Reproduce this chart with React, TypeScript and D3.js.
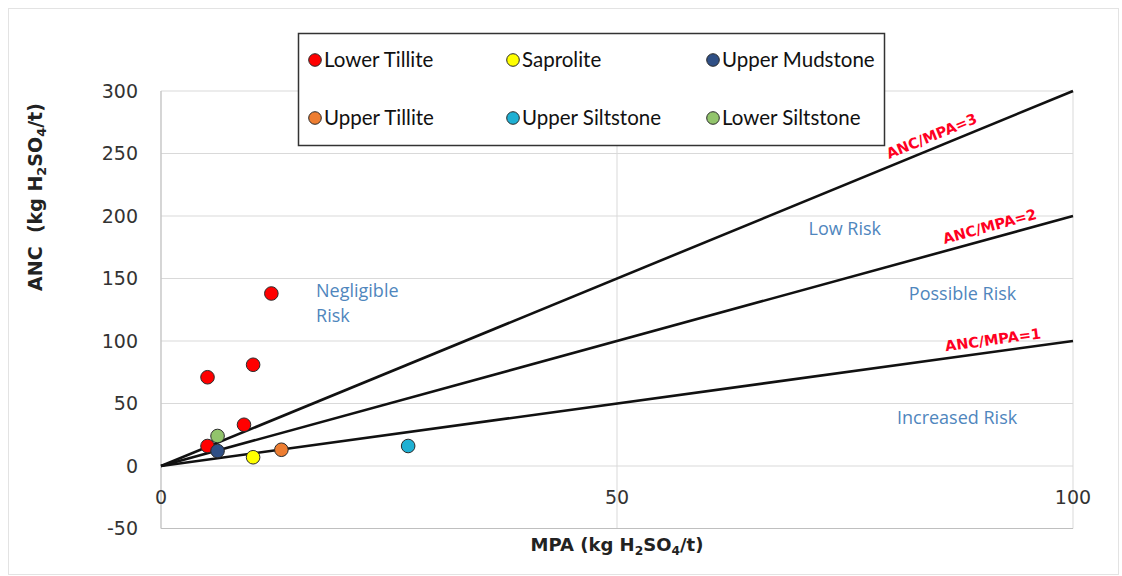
import React from "react";
import * as d3 from "d3";

// Acid-base accounting scatter: ANC vs MPA by lithology
const seriesNames = ["Lower Tillite", "Saprolite", "Upper Mudstone", "Upper Tillite", "Upper Siltstone", "Lower Siltstone"];
const seriesColors = ["#ff0000", "#ffff00", "#2f4f85", "#ed7d31", "#1fb0d3", "#92c46c"];

const lowerTillite = [
  { mpa: 12.1, anc: 138 },
  { mpa: 10.1, anc: 81 },
  { mpa: 5.1, anc: 71 },
  { mpa: 9.1, anc: 33 },
  { mpa: 5.1, anc: 16 },
];
const saprolite = [{ mpa: 10.1, anc: 7 }];
const upperMudstone = [{ mpa: 6.2, anc: 12 }];
const upperTillite = [{ mpa: 13.2, anc: 13 }];
const upperSiltstone = [{ mpa: 27.1, anc: 16 }];
const lowerSiltstone = [{ mpa: 6.2, anc: 24 }];

const seriesData = [lowerTillite, saprolite, upperMudstone, upperTillite, upperSiltstone, lowerSiltstone];

// Ratio reference lines ANC = k * MPA
const ratios = [3, 2, 1];
const ratioLabelAt = [85.0, 91.2, 91.4];

const xTicks = [0, 50, 100];
const yTicks = [-50, 0, 50, 100, 150, 200, 250, 300];

const riskZones = [
  { lines: ["Negligible", "Risk"], mpa: 17, anc: 140 },
  { lines: ["Low Risk"], mpa: 71, anc: 190 },
  { lines: ["Possible Risk"], mpa: 82, anc: 138 },
  { lines: ["Increased Risk"], mpa: 80.7, anc: 39 },
];

const W = 1122;
const H = 576;
const plot = { left: 161, right: 1073, top: 91, bottom: 528.5 };

const x = d3.scaleLinear().domain([0, 100]).range([plot.left, plot.right]);
const y = d3.scaleLinear().domain([-50, 300]).range([plot.bottom, plot.top]);

const GEO = "'DejaVu Sans', sans-serif";
const LEG = "Lato, 'Open Sans', sans-serif";
const RISK = "'Open Sans', sans-serif";

function ChemUnit({ prefix }: { prefix: string }) {
  return (
    <>
      {prefix} (kg H
      <tspan dy="4" fontSize="0.68em">2</tspan>
      <tspan dy="-4">SO</tspan>
      <tspan dy="4" fontSize="0.68em">4</tspan>
      <tspan dy="-4">/t)</tspan>
    </>
  );
}

export default function App() {
  const line = d3
    .line<[number, number]>()
    .x((d) => x(d[0]))
    .y((d) => y(d[1]));

  const legendCols = [315, 513, 713];
  const legendRows = [60, 118];

  return (
    <svg
      width={W}
      height={H}
      style={{ position: "absolute", left: 0, top: 0, background: "#fff" }}
    >
      <rect x={8.5} y={8.5} width={1110} height={566} fill="#fff" stroke="#e3e3e3" />

      {/* horizontal gridlines */}
      {yTicks.map((t) => (
        <line key={"g" + t} x1={plot.left} x2={plot.right} y1={y(t)} y2={y(t)} stroke="#d9d9d9" strokeWidth={1} />
      ))}
      {/* vertical gridlines */}
      {xTicks.map((t) => (
        <line key={"v" + t} x1={x(t)} x2={x(t)} y1={plot.top} y2={plot.bottom} stroke="#d9d9d9" strokeWidth={1} />
      ))}
      <line x1={plot.left} x2={plot.left} y1={plot.top} y2={plot.bottom} stroke="#bfbfbf" />
      <line x1={plot.left} x2={plot.right} y1={plot.bottom} y2={plot.bottom} stroke="#bfbfbf" />

      {/* y tick labels */}
      {yTicks.map((t) => (
        <text key={"yl" + t} x={138} y={y(t)} dy="0.36em" textAnchor="end" fontFamily={GEO} fontSize={19} fill="#333">
          {t}
        </text>
      ))}
      {/* x tick labels */}
      {xTicks.map((t) => (
        <text key={"xl" + t} x={x(t)} y={y(-25)} dy="0.36em" textAnchor="middle" fontFamily={GEO} fontSize={19} fill="#333">
          {t}
        </text>
      ))}

      {/* axis titles */}
      <text x={617} y={551} textAnchor="middle" fontFamily={GEO} fontWeight="bold" fontSize={18} fill="#222">
        <ChemUnit prefix="MPA" />
      </text>
      <text
        transform={`translate(42,197) rotate(-90)`}
        textAnchor="middle"
        fontFamily={GEO}
        fontWeight="bold"
        fontSize={19}
        fill="#222"
      >
        <ChemUnit prefix={"ANC\u00a0"} />
      </text>

      {/* ratio lines */}
      {ratios.map((k) => (
        <path key={"r" + k} d={line([[0, 0], [100, 100 * k]]) || ""} fill="none" stroke="#111" strokeWidth={2.6} />
      ))}
      {ratios.map((k, i) => {
        const mx = ratioLabelAt[i];
        const px = x(mx);
        const py = y(mx * k);
        const angle = (Math.atan2(y(0) - y(100 * k), x(100) - x(0)) * 180) / Math.PI;
        return (
          <text
            key={"rl" + k}
            transform={`translate(${px},${py}) rotate(${-angle})`}
            y={-7}
            textAnchor="middle"
            fontFamily={GEO}
            fontWeight="bold"
            fontSize={14.5}
            fill="#ff0022"
          >
            {`ANC/MPA=${k}`}
          </text>
        );
      })}

      {/* risk zone labels */}
      {riskZones.map((z, i) => (
        <text key={"z" + i} x={x(z.mpa)} y={y(z.anc)} fontFamily={RISK} fontSize={18} fill="#4f86bd">
          {z.lines.map((l, j) => (
            <tspan key={j} x={x(z.mpa)} dy={j === 0 ? "0.35em" : "1.38em"}>
              {l}
            </tspan>
          ))}
        </text>
      ))}

      {/* data points */}
      {seriesData.map((pts, si) =>
        pts.map((p, pi) => (
          <circle
            key={si + "-" + pi}
            cx={x(p.mpa)}
            cy={y(p.anc)}
            r={6.8}
            fill={seriesColors[si]}
            stroke="#2a2a2a"
            strokeWidth={1}
          />
        ))
      )}

      {/* legend */}
      <rect x={298.5} y={33.5} width={586} height={112} fill="#fff" stroke="#333" strokeWidth={1.5} />
      {seriesNames.map((name, i) => {
        const cx = legendCols[i % 3];
        const cy = legendRows[Math.floor(i / 3)];
        return (
          <g key={name}>
            <circle cx={cx} cy={cy} r={6.3} fill={seriesColors[i]} stroke="#2a2a2a" strokeWidth={1} />
            <text x={cx + 9} y={cy} dy="0.36em" fontFamily={LEG} fontSize={20.5} fill="#111">
              {name}
            </text>
          </g>
        );
      })}
    </svg>
  );
}
